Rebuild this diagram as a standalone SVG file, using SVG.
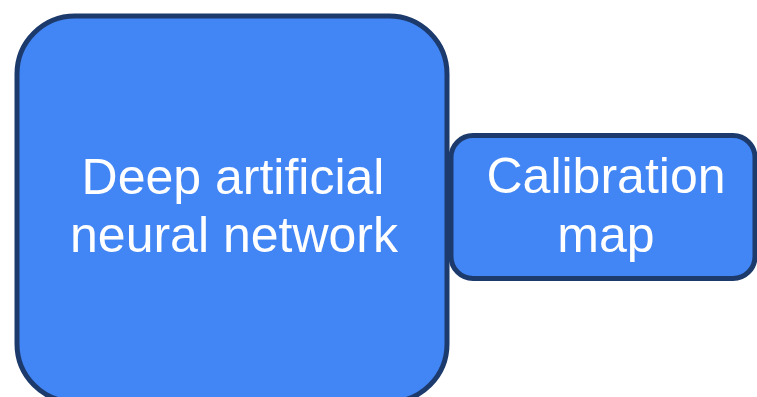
<svg xmlns="http://www.w3.org/2000/svg" width="757" height="397" viewBox="0 0 757 397">
  <style>
    .box { fill: #4285f4; stroke: #1c3a6c; stroke-width: 5; }
    .label { font-family: "Liberation Sans", Arial, sans-serif; font-size: 50px; fill: #ffffff; text-anchor: middle; }
  </style>
  <rect width="757" height="397" fill="#ffffff"/>
  <g id="dnn">
    <rect class="box" x="17" y="16" width="430" height="386" rx="58" ry="58"/>
    <text class="label" x="233" y="194">Deep artificial</text>
    <text class="label" x="234" y="252">neural network</text>
  </g>
  <g id="calibration-map">
    <rect class="box" x="451" y="135.5" width="304" height="143" rx="22" ry="22"/>
    <text class="label" x="606" y="193">Calibration</text>
    <text class="label" x="606" y="252">map</text>
  </g>
  <g id="connectors"></g>
</svg>
